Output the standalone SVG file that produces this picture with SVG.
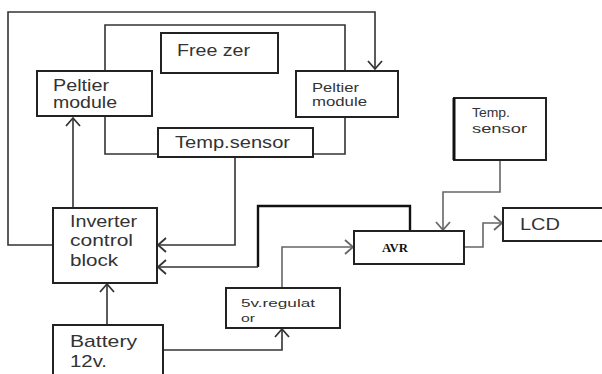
<svg xmlns="http://www.w3.org/2000/svg" width="602" height="374" viewBox="0 0 602 374">
<style>
.box{fill:#fff;stroke:#222;stroke-width:2}
.w{fill:none;stroke:#333;stroke-width:1.6}
.g{fill:none;stroke:#666;stroke-width:1.6}
.k{fill:none;stroke:#111;stroke-width:2.4}
.t{font-family:"Liberation Sans",Arial,sans-serif;fill:#333}
</style>
<defs>
<marker id="a" markerUnits="userSpaceOnUse" markerWidth="20" markerHeight="20" viewBox="-10 -10 20 20" refX="0" refY="0" orient="auto">
<path d="M-8,-7 L0,0 L-8,7" fill="none" stroke="#333" stroke-width="1.8"/>
</marker>
<marker id="ag" markerUnits="userSpaceOnUse" markerWidth="20" markerHeight="20" viewBox="-10 -10 20 20" refX="0" refY="0" orient="auto">
<path d="M-8,-7 L0,0 L-8,7" fill="none" stroke="#666" stroke-width="1.8"/>
</marker>
</defs>
<rect width="602" height="374" fill="#fff"/>
<g id="connectors">
<path class="w" d="M105,71 V25 H345 V71"/>
<path class="w" d="M105,116 V154 H158"/>
<path class="w" d="M313,154 H345 V117"/>
<path class="w" d="M53,245 H8 V12 H375 V69" marker-end="url(#a)"/>
<path class="w" d="M73,208 V118" marker-end="url(#a)"/>
<path class="w" d="M235,157 V245 H158" marker-end="url(#a)"/>
<path class="k" d="M410,231 V206 H258 V267"/>
<path class="w" d="M258,267 H158" marker-end="url(#a)"/>
<path class="w" d="M107,325 V284" marker-end="url(#a)"/>
<path class="w" d="M163,350 H282 V329" marker-end="url(#a)"/>
<path class="g" d="M282,288 V247 H353" marker-end="url(#ag)"/>
<path class="g" d="M500,160 V192 H443 V230" marker-end="url(#ag)"/>
<path class="g" d="M464,247 H483 V223 H502" marker-end="url(#ag)"/>
</g>
<g id="freezer">
<rect class="box" x="161" y="33" width="117" height="40"/>
<text class="t" x="177" y="56" font-size="16" textLength="73" lengthAdjust="spacingAndGlyphs">Free zer</text>
</g>
<g id="peltier-left">
<rect class="box" x="37" y="71" width="115" height="45"/>
<text class="t" x="53" y="91" font-size="16" textLength="56" lengthAdjust="spacingAndGlyphs">Peltier</text>
<text class="t" x="53" y="108" font-size="16" textLength="64" lengthAdjust="spacingAndGlyphs">module</text>
</g>
<g id="peltier-right">
<rect class="box" x="296" y="71" width="102" height="46" stroke-width="2.6"/>
<text class="t" x="312" y="92" font-size="13" textLength="47" lengthAdjust="spacingAndGlyphs">Peltier</text>
<text class="t" x="312" y="106" font-size="13" textLength="55" lengthAdjust="spacingAndGlyphs">module</text>
</g>
<g id="temp-sensor-freezer">
<rect class="box" x="158" y="128" width="155" height="29"/>
<text class="t" x="175" y="148" font-size="16" textLength="115" lengthAdjust="spacingAndGlyphs">Temp.sensor</text>
</g>
<g id="inverter">
<rect class="box" x="53" y="208" width="104" height="75"/>
<text class="t" x="70" y="227" font-size="16" textLength="67" lengthAdjust="spacingAndGlyphs">Inverter</text>
<text class="t" x="70" y="246" font-size="16" textLength="63" lengthAdjust="spacingAndGlyphs">control</text>
<text class="t" x="70" y="266" font-size="16" textLength="48" lengthAdjust="spacingAndGlyphs">block</text>
</g>
<g id="battery">
<rect class="box" x="53" y="325" width="110" height="60"/>
<text class="t" x="70" y="347" font-size="17" textLength="67" lengthAdjust="spacingAndGlyphs">Battery</text>
<text class="t" x="70" y="367" font-size="17" textLength="37" lengthAdjust="spacingAndGlyphs">12v.</text>
</g>
<g id="regulator">
<rect class="box" x="226" y="288" width="114" height="40"/>
<text class="t" x="241" y="307" font-size="11" textLength="74" lengthAdjust="spacingAndGlyphs">5v.regulat</text>
<text class="t" x="241" y="322" font-size="11" textLength="14" lengthAdjust="spacingAndGlyphs">or</text>
</g>
<g id="avr">
<rect class="box" x="354" y="231" width="110" height="33"/>
<text x="382" y="252" font-family="'Liberation Serif','Times New Roman',serif" font-weight="bold" font-size="12" fill="#111" textLength="26" lengthAdjust="spacingAndGlyphs">AVR</text>
</g>
<g id="temp-sensor">
<rect class="box" x="454" y="98" width="92" height="62"/>
<line x1="454" y1="98" x2="454" y2="160" stroke="#111" stroke-width="3"/>
<text class="t" x="472" y="117" font-size="13" textLength="38" lengthAdjust="spacingAndGlyphs">Temp.</text>
<text class="t" x="472" y="133" font-size="13" textLength="55" lengthAdjust="spacingAndGlyphs">sensor</text>
</g>
<g id="lcd">
<rect class="box" x="503" y="208" width="110" height="33"/>
<text class="t" x="520" y="230" font-size="17" textLength="40" lengthAdjust="spacingAndGlyphs">LCD</text>
</g>
</svg>
